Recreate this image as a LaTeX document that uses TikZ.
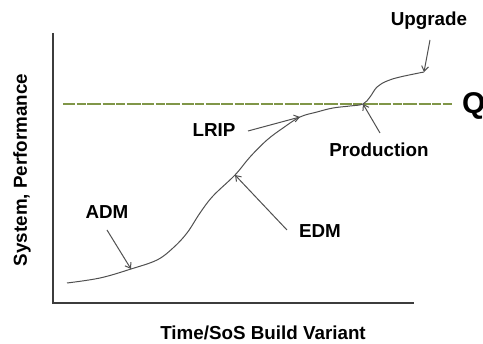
\documentclass[tikz,border=0pt]{standalone}
\usepackage{fontspec}
\setmainfont{Liberation Sans}
\usetikzlibrary{arrows.meta}
\definecolor{curvegray}{RGB}{80,80,80}
\definecolor{axisgray}{RGB}{60,60,60}
\definecolor{olive}{RGB}{128,150,72}
\tikzset{
  lbl/.style={font=\bfseries\fontsize{18.8}{21}\selectfont, text=black, inner sep=0pt},
  pointer/.style={draw=curvegray, line width=1pt, -{Straight Barb[length=5pt,width=7pt]}},
  axisline/.style={draw=axisgray, line width=1.4pt},
}
\begin{document}
\begin{tikzpicture}[x=1pt,y=-1pt]
\useasboundingbox (0,0) rectangle (483,344);
\clip (0,0) rectangle (483,344);
% axes
\coordinate (ytop) at (53,33);
\coordinate (orig) at (53,303);
\coordinate (xend) at (414,303);
\draw[axisline] (ytop) -- (orig) -- (xend);
% threshold
\coordinate (ts) at (63,104);
\coordinate (te) at (452,104);
\draw[draw=olive, line width=1.4pt, dash pattern=on 12pt off 1.5pt on 9pt off 1.5pt on 14pt off 1.5pt] (ts) -- (te);
\node[font=\bfseries\fontsize{30}{32}\selectfont, anchor=west, inner xsep=0pt] (q) at (462,105.5) {Q};
% curve
\coordinate (cADM) at (131,269);
\coordinate (cEDM) at (235,175);
\coordinate (cLRIP) at (300,117);
\coordinate (cProd) at (363,104);
\coordinate (cUp) at (424,72);
\draw[curvegray, line width=1pt] plot[smooth, tension=0.6] coordinates {
 (67,283) (100,278) (cADM) (157,260) (173,248) (187,233) (200,213) (213,196)
 (cEDM) (250,157) (267,140) (283,128) (cLRIP) (317,112) (333,108) (350,106)
 (cProd) (370,97) (377,87) (387,81) (400,77) (cUp)};
% labels
\node[lbl] (up) at (429,21) {Upgrade};
\node[lbl] (lrip) at (214,130) {LRIP};
\node[lbl] (prod) at (379,150) {Production};
\node[lbl] (edm) at (320,231) {EDM};
\node[lbl] (adm) at (107,212) {ADM};
\node[lbl] (xl) at (263,333) {Time/SoS Build Variant};
\node[lbl, rotate=90] (yl) at (22,170) {System, Performance};
% pointers
\coordinate (tUp) at (430,40);
\coordinate (tLRIP) at (248,131);
\coordinate (tProd) at (380,133);
\coordinate (tEDM) at (287,230);
\coordinate (tADM) at (107,230);
\draw[pointer] (tUp) -- (cUp);
\draw[pointer] (tLRIP) -- (cLRIP);
\draw[pointer] (tProd) -- (cProd);
\draw[pointer] (tEDM) -- (cEDM);
\draw[pointer] (tADM) -- (cADM);
\end{tikzpicture}
\end{document}
